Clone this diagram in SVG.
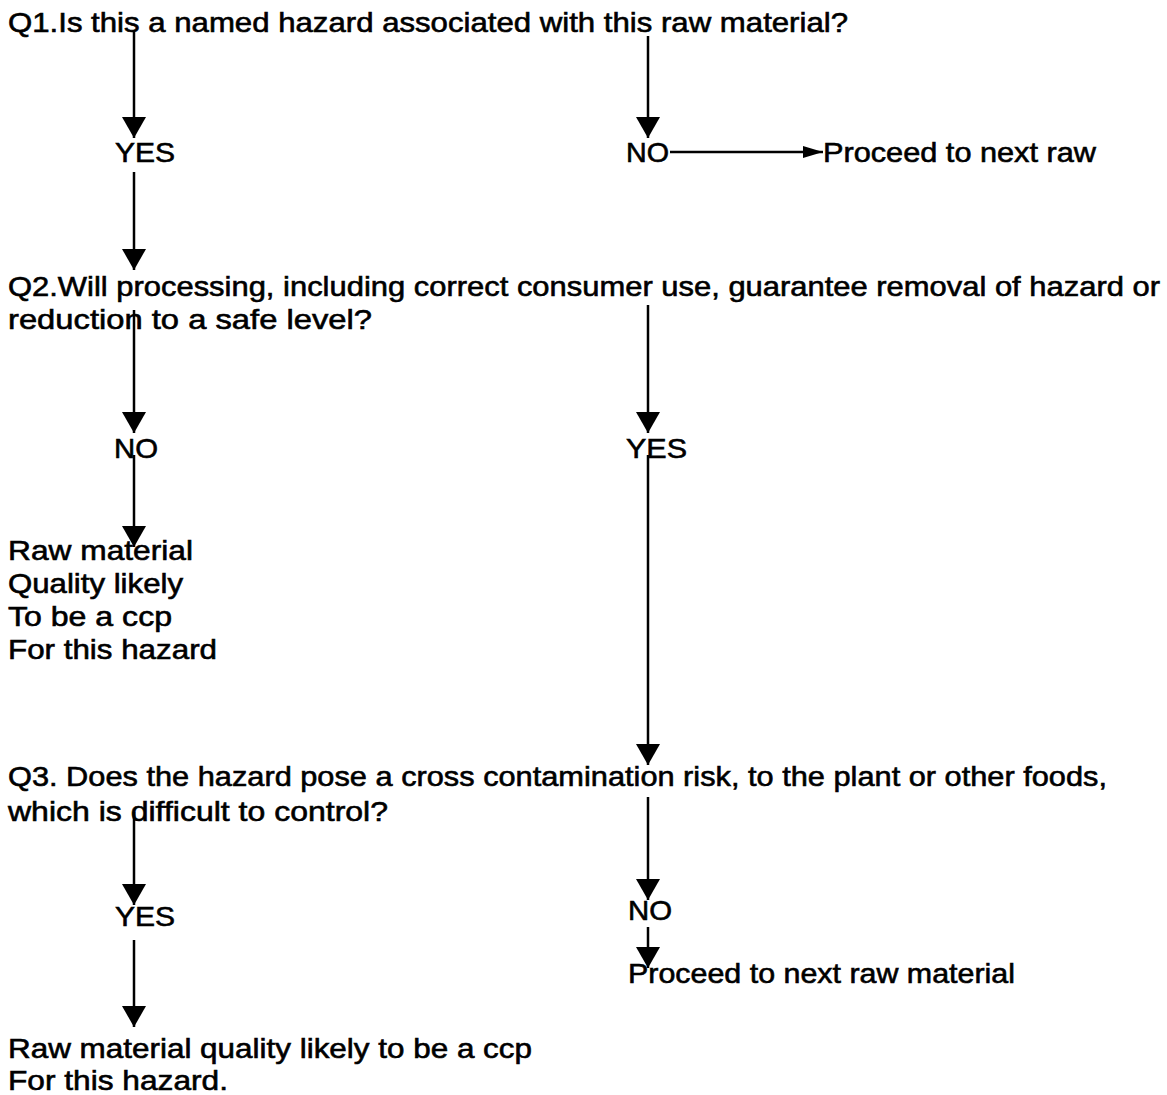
<svg xmlns="http://www.w3.org/2000/svg" width="1167" height="1095" viewBox="0 0 1167 1095">
  <defs>
    <style>
      .t { font-family: "Liberation Sans", Arial, sans-serif; font-size: 28px; fill: #000; stroke: #000; stroke-width: 0.6px; }
      .c { stroke: #000; stroke-width: 2.5; fill: none; }
      .v { marker-end: url(#head); }
      .h { marker-end: url(#headSmall); }
    </style>
    <marker id="head" markerUnits="userSpaceOnUse" viewBox="0 0 21 24" refX="21" refY="12" markerWidth="21" markerHeight="24" orient="auto">
      <path d="M0,0 L21,12 L0,24 Z" fill="#000"/>
    </marker>
    <marker id="headSmall" markerUnits="userSpaceOnUse" viewBox="0 0 20 12" refX="20" refY="6" markerWidth="20" markerHeight="12" orient="auto">
      <path d="M0,0 L20,6 L0,12 Z" fill="#000"/>
    </marker>
  </defs>
  <rect width="1167" height="1095" fill="#fff"/>

  <!-- connectors -->
  <g id="connectors">
    <line class="c v" x1="134" y1="30" x2="134" y2="138"/>
    <line class="c v" x1="648" y1="36" x2="648" y2="138"/>
    <line class="c h" x1="670" y1="152" x2="823" y2="152"/>
    <line class="c v" x1="134" y1="172" x2="134" y2="270"/>
    <line class="c v" x1="134" y1="310" x2="134" y2="433"/>
    <line class="c v" x1="648" y1="305" x2="648" y2="433"/>
    <line class="c v" x1="134" y1="455" x2="134" y2="547"/>
    <line class="c v" x1="648" y1="455" x2="648" y2="765"/>
    <line class="c v" x1="134" y1="812" x2="134" y2="905"/>
    <line class="c v" x1="648" y1="797" x2="648" y2="900"/>
    <line class="c v" x1="648" y1="927" x2="648" y2="968"/>
    <line class="c v" x1="134" y1="940" x2="134" y2="1027"/>
  </g>

  <!-- question 1 -->
  <g id="q1">
    <text class="t" x="8" y="32" textLength="840" lengthAdjust="spacingAndGlyphs">Q1.Is this a named hazard associated with this raw material?</text>
  </g>
  <g id="q1-yes">
    <text class="t" x="115" y="162" textLength="60" lengthAdjust="spacingAndGlyphs">YES</text>
  </g>
  <g id="q1-no">
    <text class="t" x="626" y="162" textLength="43" lengthAdjust="spacingAndGlyphs">NO</text>
  </g>
  <g id="next-raw-1">
    <text class="t" x="823" y="162" textLength="273" lengthAdjust="spacingAndGlyphs">Proceed to next raw</text>
  </g>

  <!-- question 2 -->
  <g id="q2">
    <text class="t" x="8" y="296" textLength="1152" lengthAdjust="spacingAndGlyphs">Q2.Will processing, including correct consumer use, guarantee removal of hazard or</text>
    <text class="t" x="8" y="329" textLength="364" lengthAdjust="spacingAndGlyphs">reduction to a safe level?</text>
  </g>
  <g id="q2-no">
    <text class="t" x="114" y="458" textLength="44" lengthAdjust="spacingAndGlyphs">NO</text>
  </g>
  <g id="q2-yes">
    <text class="t" x="626" y="458" textLength="61" lengthAdjust="spacingAndGlyphs">YES</text>
  </g>
  <g id="ccp-1">
    <text class="t" x="8" y="560" textLength="185" lengthAdjust="spacingAndGlyphs">Raw material</text>
    <text class="t" x="8" y="593" textLength="175" lengthAdjust="spacingAndGlyphs">Quality likely</text>
    <text class="t" x="8" y="626" textLength="164" lengthAdjust="spacingAndGlyphs">To be a ccp</text>
    <text class="t" x="8" y="659" textLength="209" lengthAdjust="spacingAndGlyphs">For this hazard</text>
  </g>

  <!-- question 3 -->
  <g id="q3">
    <text class="t" x="8" y="786" textLength="1099" lengthAdjust="spacingAndGlyphs">Q3. Does the hazard pose a cross contamination risk, to the plant or other foods,</text>
    <text class="t" x="8" y="821" textLength="380" lengthAdjust="spacingAndGlyphs">which is difficult to control?</text>
  </g>
  <g id="q3-yes">
    <text class="t" x="115" y="926" textLength="60" lengthAdjust="spacingAndGlyphs">YES</text>
  </g>
  <g id="q3-no">
    <text class="t" x="628" y="920" textLength="44" lengthAdjust="spacingAndGlyphs">NO</text>
  </g>
  <g id="next-raw-2">
    <text class="t" x="628" y="983" textLength="387" lengthAdjust="spacingAndGlyphs">Proceed to next raw material</text>
  </g>
  <g id="ccp-2">
    <text class="t" x="8" y="1058" textLength="524" lengthAdjust="spacingAndGlyphs">Raw material quality likely to be a ccp</text>
    <text class="t" x="8" y="1090" textLength="220" lengthAdjust="spacingAndGlyphs">For this hazard.</text>
  </g>
</svg>
